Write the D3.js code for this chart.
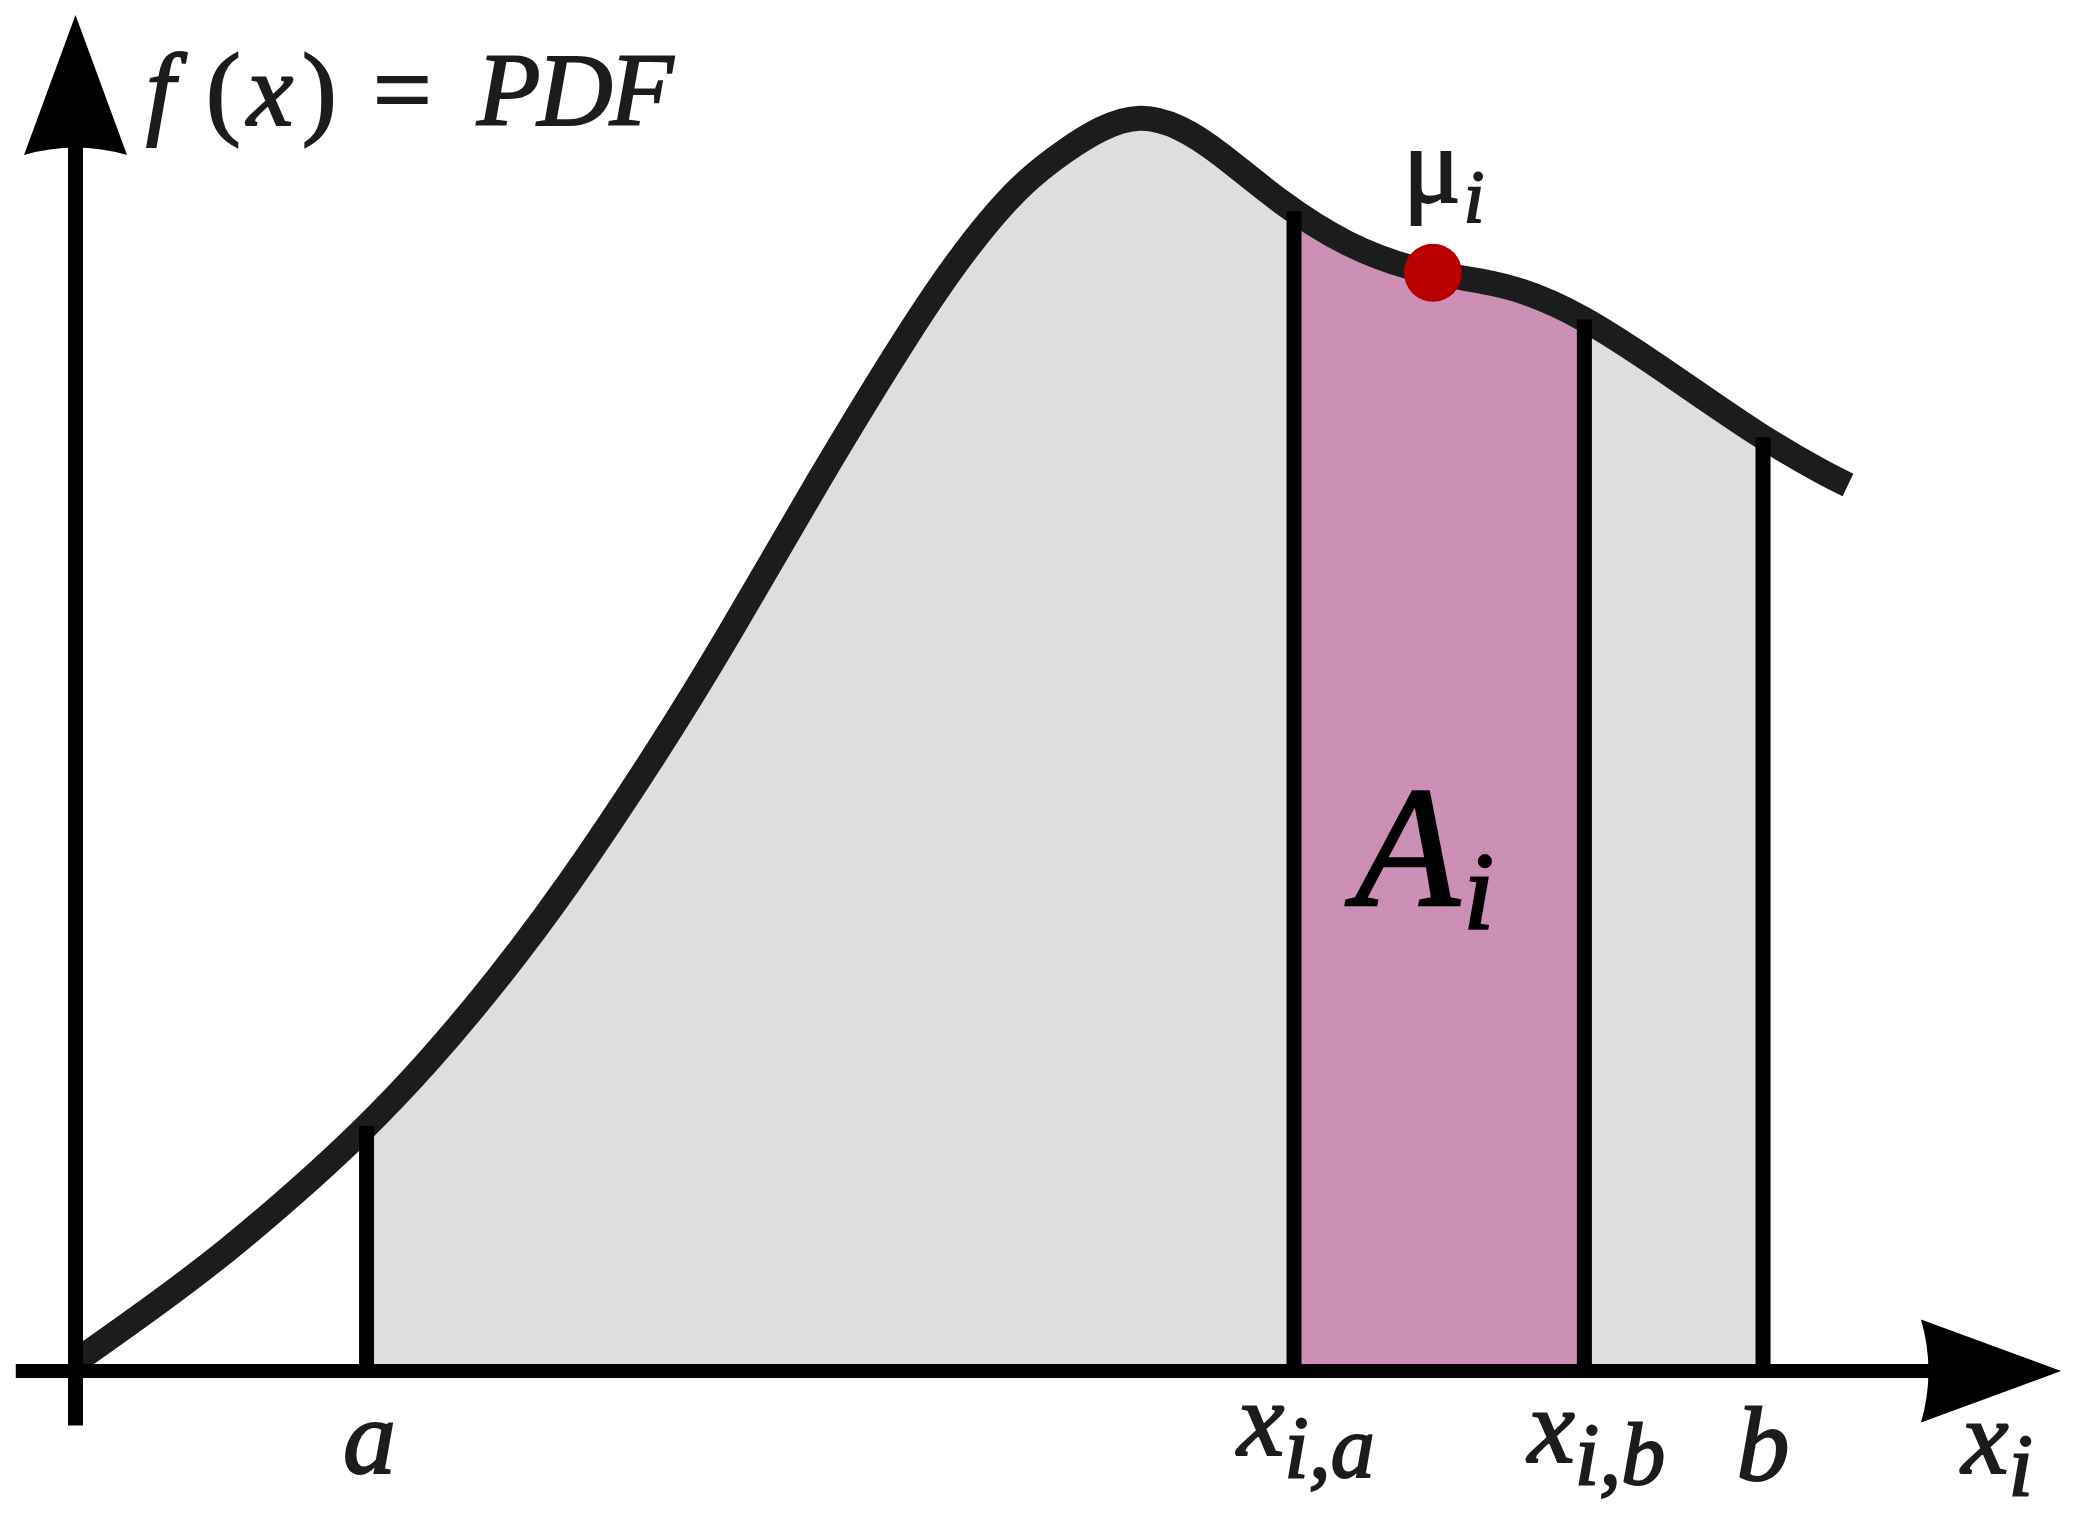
<!DOCTYPE html>
<html>
<head>
<meta charset="utf-8">
<script src="https://cdn.jsdelivr.net/npm/d3@7"></script>
<style>
  body { margin: 0; background: #fff; }
  text { font-family: "Liberation Serif", serif; fill: #1c1c1c; stroke: #1c1c1c; stroke-width: 2; }
</style>
</head>
<body>
<div id="chart"></div>
<script>
const width = 2081, height = 1523;

// pdf curve, in axis units
const curveX = [0.019, 0.637, 1.142, 1.639, 2.144, 2.649, 3.168, 3.703, 4.381, 4.909, 5.572, 6.333, 6.717, 7.124, 7.471, 7.720, 8.021, 8.322, 8.601, 9.076, 9.580, 10.078, 10.454, 10.831, 11.336, 11.939, 12.692, 13.197, 13.355];
const curveY = [0.083, 0.520, 0.904, 1.326, 1.786, 2.313, 2.931, 3.639, 4.656, 5.515, 6.676, 7.919, 8.469, 8.951, 9.207, 9.366, 9.471, 9.380, 9.200, 8.800, 8.476, 8.296, 8.235, 8.175, 7.964, 7.565, 7.037, 6.751, 6.676];

// bounds on the x axis
const boundNames = ["a", "xia", "xib", "b"];
const boundX = [2.193, 9.181, 11.369, 12.715];
const muX = 10.228;

// axis extents
const axisXRange = [-0.45, 14.96];
const axisYRange = [-0.41, 10.217];

const bx = name => boundX[boundNames.indexOf(name)];

const X0 = 75.5, Y0 = 1371, unit = 132.72;
const x = d3.scaleLinear().domain([0, 15]).range([X0, X0 + 15 * unit]);
const y = d3.scaleLinear().domain([0, 10]).range([Y0, Y0 - 10 * unit]);

const svg = d3.select("#chart")
    .append("svg")
    .attr("width", width)
    .attr("height", height);

const pts = curveX.map((v, i) => [v, curveY[i]]);
const curve = d3.curveBasis;

const line = d3.line()
    .x(d => x(d[0]))
    .y(d => y(d[1]))
    .curve(curve);

const area = d3.area()
    .x(d => x(d[0]))
    .y0(y(0))
    .y1(d => y(d[1]))
    .curve(curve);

const defs = svg.append("defs");
function clipBetween(id, x1, x2) {
    defs.append("clipPath").attr("id", id)
        .append("rect")
        .attr("x", x(x1))
        .attr("y", 0)
        .attr("width", x(x2) - x(x1))
        .attr("height", height);
}
clipBetween("clip-ab", bx("a"), bx("b"));
clipBetween("clip-i", bx("xia"), bx("xib"));

svg.append("path")
    .attr("d", area(pts))
    .attr("fill", "#dedede")
    .attr("clip-path", "url(#clip-ab)");

svg.append("path")
    .attr("d", area(pts))
    .attr("fill", "#cc8fb5")
    .attr("clip-path", "url(#clip-i)");

const curvePath = svg.append("path")
    .attr("d", line(pts))
    .attr("fill", "none")
    .attr("stroke", "#1c1c1c")
    .attr("stroke-width", 25)
    .attr("stroke-linecap", "butt");

// y of the curve at an x value (axis units -> pixel)
function yAt(xu) {
    const node = curvePath.node();
    const px = x(xu);
    let lo = 0, hi = node.getTotalLength();
    for (let k = 0; k < 40; k++) {
        const mid = (lo + hi) / 2;
        if (node.getPointAtLength(mid).x < px) lo = mid; else hi = mid;
    }
    return node.getPointAtLength(lo).y;
}

// vertical bound lines
svg.selectAll(".bound")
    .data(boundX)
    .enter()
    .append("line")
    .attr("class", "bound")
    .attr("x1", d => x(d))
    .attr("x2", d => x(d))
    .attr("y1", y(0))
    .attr("y2", d => yAt(d))
    .attr("stroke", "#000")
    .attr("stroke-width", 15);

// axes
svg.append("line")
    .attr("x1", x(axisXRange[0])).attr("x2", x(axisXRange[1]) - 60)
    .attr("y1", y(0)).attr("y2", y(0))
    .attr("stroke", "#000").attr("stroke-width", 14);

svg.append("line")
    .attr("x1", x(0)).attr("x2", x(0))
    .attr("y1", y(axisYRange[0])).attr("y2", y(axisYRange[1]) + 60)
    .attr("stroke", "#000").attr("stroke-width", 15);

// arrow heads, concave base
const aLen = 140, aHalf = 51.5, aNotch = 15;
const tx = x(axisXRange[1]), ty = y(0);
svg.append("path")
    .attr("d", `M${tx},${ty} L${tx - aLen},${ty - aHalf} Q${tx - aLen + aNotch},${ty} ${tx - aLen},${ty + aHalf} Z`)
    .attr("fill", "#000");

const ux = x(0), uy = y(axisYRange[1]);
svg.append("path")
    .attr("d", `M${ux},${uy} L${ux - aHalf},${uy + aLen} Q${ux},${uy + aLen - aNotch} ${ux + aHalf},${uy + aLen} Z`)
    .attr("fill", "#000");

// mean dot
svg.append("circle")
    .attr("cx", x(muX))
    .attr("cy", yAt(muX))
    .attr("r", 29)
    .attr("fill", "#b90000");

// title f(x) = PDF
const titleParts = ["f", "(", "x", ")", "=", "PDF"];
const titleLeft = [146, 206, 247, 302, 373, 477];
const titleItalic = [true, false, true, false, false, true];
const title = svg.append("text")
    .attr("y", 125)
    .attr("font-size", 104);
title.selectAll("tspan")
    .data(titleParts)
    .enter()
    .append("tspan")
    .attr("x", (d, i) => titleLeft[i])
    .attr("font-style", (d, i) => titleItalic[i] ? "italic" : "normal")
    .style("letter-spacing", d => d.length > 1 ? "-3px" : null)
    .text(d => d);

const mu = svg.append("text")
    .attr("x", x(muX) - 30).attr("y", 202)
    .attr("font-size", 108);
mu.append("tspan").text("μ");
mu.append("tspan").attr("font-style", "italic").attr("font-size", 74).attr("dy", 20).attr("dx", 3).text("i");

const ai = svg.append("text")
    .attr("x", 1355).attr("y", 905)
    .attr("font-size", 171)
    .attr("font-style", "italic")
    .style("fill", "#000")
    .style("stroke", "#000")
    .style("stroke-width", 2.5);
ai.append("tspan").text("A");
ai.append("tspan").attr("font-size", 110).attr("dy", 23).attr("dx", 4).text("i");

function boundLabel(xu, main, sub, dx, baseline) {
    const t = svg.append("text")
        .attr("x", x(xu) + dx).attr("y", baseline)
        .attr("font-size", 106)
        .attr("font-style", "italic")
        .attr("text-anchor", "middle");
    t.append("tspan").text(main);
    if (sub) t.append("tspan").attr("font-size", 88).attr("dy", 22).text(sub);
}
boundLabel(bx("a"), "a", null, 3, 1473);
boundLabel(bx("xia"), "x", "i,a", 12, 1455);
boundLabel(bx("xib"), "x", "i,b", 12, 1462);
boundLabel(bx("b"), "b", null, 0, 1480);
boundLabel(axisXRange[1] - 0.48, "x", "i", 0, 1473);
</script>
</body>
</html>
